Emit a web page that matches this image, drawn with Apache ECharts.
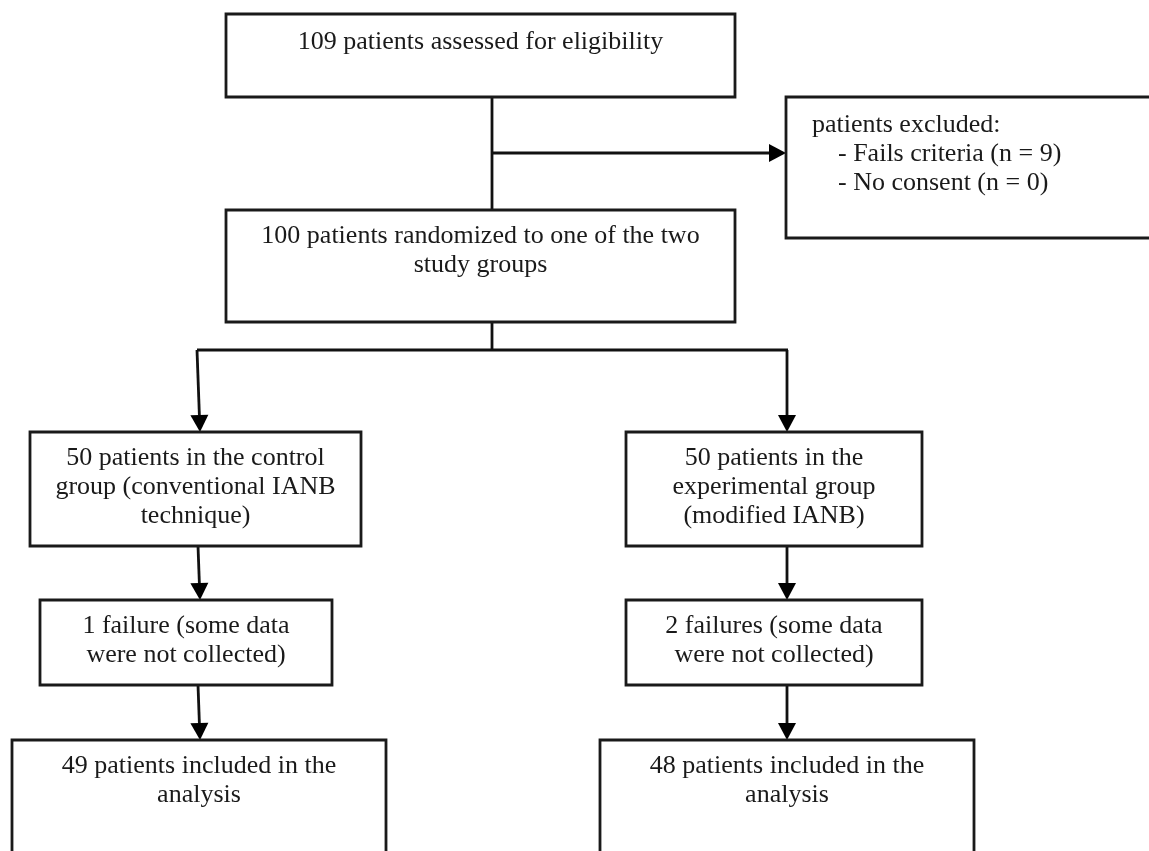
<!DOCTYPE html>
<html>
<head>
<meta charset="utf-8">
<script src="https://cdn.jsdelivr.net/npm/echarts@6/dist/echarts.min.js"></script>
<style>html,body{margin:0;padding:0;background:#fff}#c{width:1149px;height:851px}</style>
</head>
<body>
<div id="c"></div>
<script>
// Node texts (content of the flow diagram)
const nodeTexts = [
  "109 patients assessed for eligibility",
  "100 patients randomized to one of the two\nstudy groups",
  "patients excluded:\n    - Fails criteria (n = 9)\n    - No consent (n = 0)",
  "50 patients in the control\ngroup (conventional IANB\ntechnique)",
  "1 failure (some data\nwere not collected)",
  "49 patients included in the\nanalysis",
  "50 patients in the\nexperimental group\n(modified IANB)",
  "2 failures (some data\nwere not collected)",
  "48 patients included in the\nanalysis"
];
const patientCounts = [109, 100, 9, 50, 1, 49, 50, 2, 48];

// Layout of boxes in diagram units: [x0, y0, x1, y1, align(0 center,1 left), textOffset]
const boxLayout = [
  [226, 14, 735, 97, 0, 14],
  [226, 210, 735, 322, 0, 12],
  [786, 97, 1170, 238, 1, 14],
  [30, 432, 361, 546, 0, 12],
  [40, 600, 332, 685, 0, 12],
  [12, 740, 386, 880, 0, 12],
  [626, 432, 922, 546, 0, 12],
  [626, 600, 922, 685, 0, 12],
  [600, 740, 974, 880, 0, 12]
];
// Connectors: [x0, y0, x1, y1, arrowhead]
const connectors = [
  [492, 97, 492, 210, 0],
  [492, 153, 786, 153, 1],
  [492, 322, 492, 350, 0],
  [197, 350, 788, 350, 0],
  [197, 350, 200, 432, 1],
  [787, 350, 787, 432, 1],
  [198, 546, 200, 600, 1],
  [787, 546, 787, 600, 1],
  [198, 685, 200, 740, 1],
  [787, 685, 787, 740, 1]
];

const FONT = '26px "Liberation Serif", "Times New Roman", serif';
const chart = echarts.init(document.getElementById('c'), null, {renderer: 'canvas'});

const boxData = boxLayout.map((b, i) => ({value: [b[0], b[1], b[2], b[3], b[4], b[5], i]}));

chart.setOption({
  animation: false,
  backgroundColor: '#ffffff',
  grid: {left: 0, right: 0, top: 0, bottom: 0},
  xAxis: {type: 'value', min: 0, max: 1149, show: false},
  yAxis: {type: 'value', min: 0, max: 851, inverse: true, show: false},
  series: [
    {
      type: 'custom',
      clip: false,
      data: connectors,
      renderItem: function (params, api) {
        const p0 = api.coord([api.value(0), api.value(1)]);
        const p1 = api.coord([api.value(2), api.value(3)]);
        const children = [];
        const hasArrow = api.value(4) === 1;
        let end = p1;
        const dx = p1[0] - p0[0], dy = p1[1] - p0[1];
        const len = Math.sqrt(dx * dx + dy * dy);
        const ux = dx / len, uy = dy / len;
        const ah = 17, aw = 9;
        if (hasArrow) end = [p1[0] - ux * ah, p1[1] - uy * ah];
        children.push({
          type: 'line',
          shape: {x1: p0[0], y1: p0[1], x2: end[0], y2: end[1]},
          style: {stroke: '#111', lineWidth: 2.8}
        });
        if (hasArrow) {
          const bx = p1[0] - ux * ah, by = p1[1] - uy * ah;
          children.push({
            type: 'polygon',
            shape: {points: [[p1[0], p1[1]], [bx - uy * aw, by + ux * aw], [bx + uy * aw, by - ux * aw]]},
            style: {fill: '#000'}
          });
        }
        return {type: 'group', children: children};
      }
    },
    {
      type: 'custom',
      clip: false,
      data: boxData,
      renderItem: function (params, api) {
        const p0 = api.coord([api.value(0), api.value(1)]);
        const p1 = api.coord([api.value(2), api.value(3)]);
        const align = api.value(4);
        const off = api.value(5);
        const idx = api.value(6);
        const w = p1[0] - p0[0], h = p1[1] - p0[1];
        return {
          type: 'group',
          children: [
            {
              type: 'rect',
              shape: {x: p0[0], y: p0[1], width: w, height: h},
              style: {fill: '#fff', stroke: '#1a1a1a', lineWidth: 2.8}
            },
            {
              type: 'text',
              x: align === 1 ? p0[0] + 26 : p0[0] + w / 2,
              y: p0[1] + off,
              style: {
                text: nodeTexts[idx],
                font: FONT,
                fill: '#1a1a1a',
                align: align === 1 ? 'left' : 'center',
                verticalAlign: 'top',
                lineHeight: 29
              }
            }
          ]
        };
      }
    }
  ]
});
</script>
</body>
</html>
